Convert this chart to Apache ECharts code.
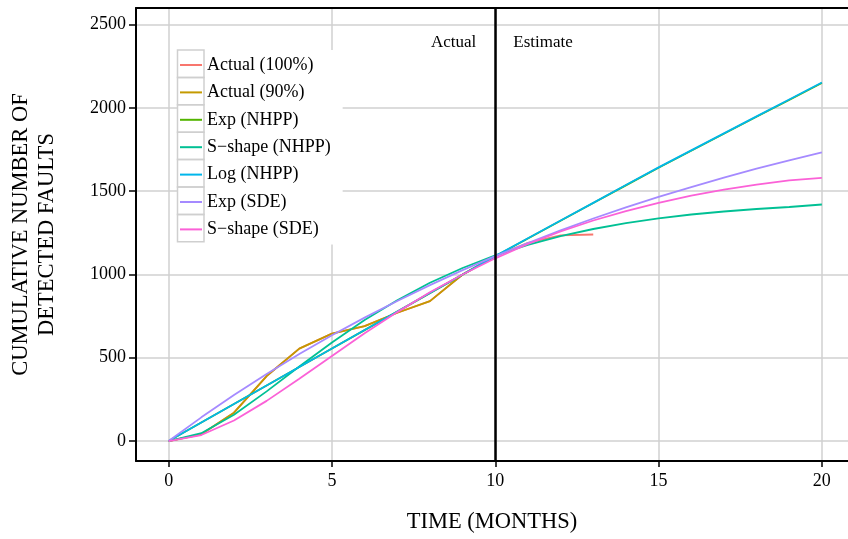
<!doctype html>
<html lang="en">
<head>
<meta charset="UTF-8">
<title>Cumulative number of detected faults</title>
<script src="https://cdn.jsdelivr.net/npm/echarts@6/dist/echarts.min.js"></script>
<style>
  html, body { margin: 0; padding: 0; background: #fff; }
  #main { width: 848px; height: 539px; }
</style>
</head>
<body>
<div id="main"></div>
<script>
// months 0..20
var months = [0,1,2,3,4,5,6,7,8,9,10,11,12,13,14,15,16,17,18,19,20];

var actual100 = [0, 40, 170, 390, 555, 645, 690, 770, 840, 1000, 1110, 1190, 1235, 1240];
var actual90  = [0, 40, 170, 390, 555, 645, 690, 770, 840, 1000, 1110];

// fitted / estimated curves
var expNHPP    = [0,111,222,333,444,555,666,777,888,999,1109,1216,1323,1429,1535,1641,1743,1845,1947,2048,2150];
var sshapeNHPP = [0,47,158,298,447,592,726,845,950,1039,1115,1178,1230,1273,1308,1337,1360,1378,1393,1405,1420];
var logNHPP    = [0,111,222,333,444,556,667,778,889,1000,1110,1217,1324,1430,1537,1643,1745,1847,1949,2051,2153];
var expSDE     = [0,142,276,403,522,635,741,841,936,1026,1110,1189,1265,1336,1403,1466,1525,1582,1635,1685,1733];
var sshapeSDE  = [0,36,123,241,374,511,647,774,893,1000,1097,1183,1258,1324,1381,1430,1473,1509,1539,1565,1580];

var seriesNames = ['Actual (100%)', 'Actual (90%)', 'Exp (NHPP)', 'S\u2212shape (NHPP)', 'Log (NHPP)', 'Exp (SDE)', 'S\u2212shape (SDE)'];
var seriesData  = [actual100, actual90, expNHPP, sshapeNHPP, logNHPP, expSDE, sshapeSDE];
var colors = ['#F8766D', '#C49A00', '#53B400', '#00C094', '#00B6EB', '#A58AFF', '#FB61D7'];

var xTicks = [0, 5, 10, 15, 20];
var yTicks = [0, 500, 1000, 1500, 2000, 2500];

var FONT = 'Liberation Serif';

function pairs(vals) {
    var out = [];
    for (var i = 0; i < vals.length; i++) out.push([months[i], vals[i]]);
    return out;
}

var series = [];
for (var i = 0; i < seriesNames.length; i++) {
    series.push({
        name: seriesNames[i],
        type: 'line',
        data: pairs(seriesData[i]),
        symbol: 'none',
        smooth: false,
        lineStyle: { color: colors[i], width: 1.8 },
        itemStyle: { color: colors[i] },
        animation: false
    });
}

// vertical divider at month 10 + "Actual" / "Estimate" captions
series[0].markLine = {
    silent: true,
    symbol: ['none', 'none'],
    label: { show: false },
    lineStyle: { color: '#000', width: 2.5, type: 'solid' },
    data: [{ xAxis: 10 }],
    animation: false
};
series[0].markPoint = {
    silent: true,
    symbol: 'circle',
    symbolSize: 0,
    animation: false,
    data: [
        { coord: [10, 2392], value: 'Actual',
          label: { show: true, formatter: 'Actual', position: 'left', distance: 19,
                   color: '#000', fontFamily: FONT, fontSize: 17 } },
        { coord: [10, 2392], value: 'Estimate',
          label: { show: true, formatter: 'Estimate', position: 'right', distance: 18,
                   color: '#000', fontFamily: FONT, fontSize: 17 } }
    ]
};

// grey cells around the legend keys
var cells = [];
for (var k = 0; k < seriesNames.length; k++) {
    cells.push({
        type: 'rect',
        shape: { x: 177.5, y: 50 + k * 27.4, width: 26.5, height: 27.4 },
        style: { fill: 'none', stroke: '#cfcfcf', lineWidth: 1.5 },
        z: 100,
        silent: true
    });
}

var chart = echarts.init(document.getElementById('main'));
var option = {
    backgroundColor: '#fff',
    animation: false,
    grid: { left: 136, top: 8, right: 0, bottom: 78, containLabel: false },
    legend: {
        orient: 'vertical',
        left: 177, top: 50,
        padding: [6, 12, 6, 3],
        icon: 'rect',
        itemWidth: 22, itemHeight: 2, itemGap: 9.4,
        backgroundColor: '#fff',
        selectedMode: false,
        textStyle: { fontFamily: FONT, fontSize: 18, color: '#000' },
        data: seriesNames
    },
    graphic: cells,
    xAxis: [{
        type: 'value',
        min: -1, max: 20.8,
        position: 'bottom',
        name: 'TIME (MONTHS)',
        nameLocation: 'middle',
        nameGap: 50,
        nameTextStyle: { fontFamily: FONT, fontSize: 22.5, color: '#000' },
        axisLine: { show: true, onZero: false, lineStyle: { color: '#000', width: 2 } },
        axisTick: { show: true, length: 6, customValues: xTicks, lineStyle: { color: '#000', width: 1.5 } },
        axisLabel: { customValues: xTicks, fontFamily: FONT, fontSize: 18, color: '#000', margin: 11 },
        splitLine: { show: true, lineStyle: { color: '#d0d0d0', width: 1.5 } }
    }, {
        type: 'value',
        min: -1, max: 20.8,
        position: 'top',
        axisLine: { show: true, onZero: false, lineStyle: { color: '#000', width: 2 } },
        axisTick: { show: false },
        axisLabel: { show: false },
        splitLine: { show: false }
    }],
    yAxis: {
        type: 'value',
        min: -120, max: 2600,
        name: 'CUMULATIVE NUMBER OF\nDETECTED FAULTS',
        nameLocation: 'middle',
        nameGap: 76,
        nameTextStyle: { fontFamily: FONT, fontSize: 22.5, color: '#000', lineHeight: 26 },
        axisLine: { show: true, onZero: false, lineStyle: { color: '#000', width: 2 } },
        axisTick: { show: true, length: 7, customValues: yTicks, lineStyle: { color: '#000', width: 1.5 } },
        axisLabel: {
            customValues: yTicks, fontFamily: FONT, fontSize: 18, color: '#000', margin: 10,
            formatter: function (v) { return String(v); }
        },
        splitLine: { show: true, lineStyle: { color: '#d0d0d0', width: 1.5 } }
    },
    series: series
};
chart.setOption(option);
</script>
</body>
</html>
